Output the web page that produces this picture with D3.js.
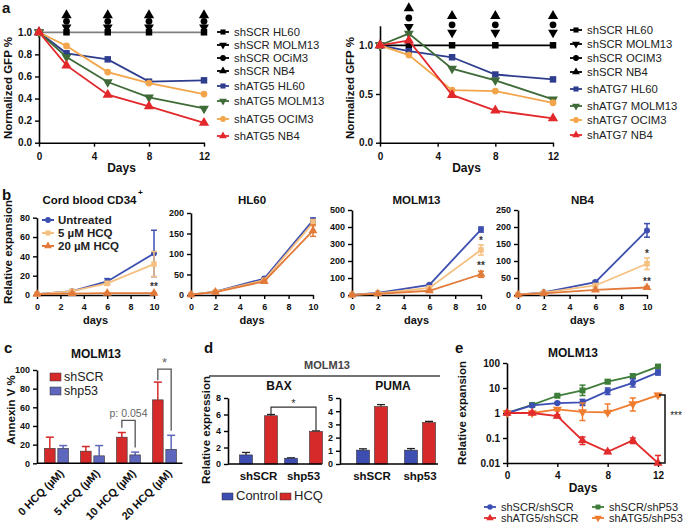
<!DOCTYPE html>
<html><head><meta charset="utf-8">
<script src="https://cdn.jsdelivr.net/npm/d3@7"></script>
<style>body{margin:0;background:#fff} svg{display:block}</style>
</head><body><svg id="c" width="685" height="525"></svg>
<script>
// ---------------- DATA ----------------
// Panel a
const aDays = [0, 2, 5, 8, 12];
const aXTicks = [0, 4, 8, 12];
const aLeftLabels = ["shSCR HL60","shSCR MOLM13","shSCR OCiM3","shSCR NB4","shATG5 HL60","shATG5 MOLM13","shATG5 OCIM3","shATG5 NB4"];
const aRightLabels = ["shSCR HL60","shSCR MOLM13","shSCR OCIM3","shSCR NB4","shATG7 HL60","shATG7 MOLM13","shATG7 OCIM3","shATG7 NB4"];
const aLeftSCR_HL60 = [1, 1, 1, 1, 1];
const aLeftSCR_MOLM13 = [1, 1.045, 1.045, 1.045, 1.045];
const aLeftSCR_OCIM3 = [1, 1.1, 1.1, 1.1, 1.1];
const aLeftSCR_NB4 = [1, 1.155, 1.155, 1.155, 1.155];
const aLeftATG5_HL60 = [1, 0.81, 0.755, 0.553, 0.565];
const aLeftATG5_MOLM13 = [1, 0.776, 0.55, 0.41, 0.31];
const aLeftATG5_OCIM3 = [1, 0.876, 0.64, 0.54, 0.44];
const aLeftATG5_NB4 = [1, 0.70, 0.435, 0.33, 0.18];
const aRightSCR_HL60 = [1, 1, 1, 1, 1];
const aRightSCR_MOLM13 = [1, 1.19, 1.13, 1.13, 1.13];
const aRightSCR_OCIM3 = [1, 1.28, 1.21, 1.21, 1.21];
const aRightSCR_NB4 = [1, 1.38, 1.3, 1.3, 1.3];
const aRightATG7_HL60 = [1, 0.94, 0.877, 0.70, 0.65];
const aRightATG7_MOLM13 = [1, 1.12, 0.76, 0.64, 0.445];
const aRightATG7_OCIM3 = [1, 0.90, 0.54, 0.53, 0.41];
const aRightATG7_NB4 = [1, 1.05, 0.49, 0.33, 0.25];

// Panel b
const bLegend = ["Untreated", "5 \u00b5M HCQ", "20 \u00b5M HCQ"];
const bTitles = ["Cord blood CD34", "HL60", "MOLM13", "NB4"];
const bDaysCord = [0, 3, 6, 10];
const bDays = [0, 2, 6, 10];
const bXTicks = [0, 2, 4, 6, 8, 10];
const bCordUnt = [1, 4, 14, 43],   bCordUntErr = [0, 1, 3, 24];
const bCord5 = [1, 4, 12, 32],     bCord5Err = [0, 1, 2, 13];
const bCord20 = [1, 1.5, 2, 2],    bCord20Err = [0, 0.5, 0.5, 0.5];
const bHLUnt = [1, 8, 40, 182],    bHLUntErr = [0, 1, 2, 6];
const bHL5 = [1, 8, 36, 176],      bHL5Err = [0, 1, 2, 8];
const bHL20 = [1, 7, 33, 157],     bHL20Err = [0, 1, 2, 14];
const bMOUnt = [1, 12, 60, 385],   bMOUntErr = [0, 2, 4, 15];
const bMO5 = [1, 10, 42, 265],     bMO5Err = [0, 2, 4, 30];
const bMO20 = [1, 7, 25, 122],     bMO20Err = [0, 1, 3, 18];
const bNBUnt = [1, 8, 38, 190],    bNBUntErr = [0, 1, 3, 20];
const bNB5 = [1, 7, 28, 92],       bNB5Err = [0, 1, 2, 17];
const bNB20 = [1, 5, 15, 22],      bNB20Err = [0, 1, 1, 3];

// Panel c
const cGroups = ["0 HCQ (\u00b5M)", "5 HCQ (\u00b5M)", "10 HCQ (\u00b5M)", "20 HCQ (\u00b5M)"];
const cSeries = ["shSCR", "shp53"];
const cSCR = [16, 13, 28, 68],  cSCRErr = [12, 5, 5, 19];
const cP53 = [16, 8, 9, 15],    cP53Err = [3, 11, 3, 15];
const cYTicks = [0, 20, 40, 60, 80, 100];

// Panel d
const dGroups = ["shSCR", "shp53"];
const dSeries = ["Control", "HCQ"];
const dBAXControl = [1.1, 0.7],   dBAXControlErr = [0.3, 0.05];
const dBAXHCQ = [5.85, 3.95],     dBAXHCQErr = [0.15, 0.06];
const dPUMAControl = [1.05, 1.05], dPUMAControlErr = [0.1, 0.12];
const dPUMAHCQ = [4.35, 3.15],     dPUMAHCQErr = [0.15, 0.08];

// Panel e
const eDays = [0, 2, 4, 6, 8, 10, 12];
const eLegend = ["shSCR/shSCR", "shSCR/shP53", "shATG5/shSCR", "shATG5/shP53"];
const eSCRSCR = [1, 2, 2.5, 2.65, 7.5, 16, 42],     eSCRSCRHi = [1, 2.2, 2.7, 3.5, 10, 23, 52],   eSCRSCRLo = [1, 1.8, 2.3, 2.0, 5.5, 11, 33];
const eSCRP53 = [1, 2.1, 4.9, 8, 18, 30, 72],       eSCRP53Hi = [1, 2.3, 5.3, 13, 21, 35, 82],    eSCRP53Lo = [1, 1.9, 4.5, 5, 15, 25, 62];
const eATG5SCR = [1, 1, 0.75, 0.08, 0.028, 0.08, 0.01], eATG5SCRHi = [1, 1.1, 0.85, 0.11, 0.032, 0.1, 0.02], eATG5SCRLo = [1, 0.9, 0.65, 0.055, 0.024, 0.06, 0.01];
const eATG5P53 = [1, 1, 1.4, 1.1, 1.05, 2.3, 5.2],  eATG5P53Hi = [1, 1.1, 1.6, 2.5, 2.3, 4.0, 6.0], eATG5P53Lo = [1, 0.9, 1.2, 0.5, 1.0, 1.2, 4.5];
const eYTicks = [0.01, 0.1, 1, 10, 100];

// ---------------- DRAWING ----------------
const F = '"Liberation Sans", Arial, Helvetica, sans-serif';
const svg = d3.select("#c").attr("font-family", F);

function styleAxis(sel, fs) {
  sel.select(".domain").attr("stroke", "#000").attr("stroke-width", 1.6);
  sel.selectAll(".tick line").attr("stroke", "#000").attr("stroke-width", 1.4);
  sel.selectAll(".tick text").attr("font-size", fs).attr("font-weight", "bold").attr("fill", "#111").attr("font-family", F);
}
function symPath(kind, size) {
  if (kind === "circle") return d3.symbol(d3.symbolCircle, size)();
  if (kind === "square") return d3.symbol(d3.symbolSquare, size)();
  return d3.symbol(d3.symbolTriangle, size)();
}
function marker(g, kind, size, cx, cy, color) {
  g.append("path").attr("d", symPath(kind, size))
    .attr("transform", `translate(${cx},${cy})` + (kind === "itri" ? " rotate(180)" : ""))
    .attr("fill", color);
}
function text(g, x, y, s, o) {
  o = o || {};
  const t = g.append("text").attr("x", x).attr("y", y).text(s)
    .attr("font-size", o.fs || 12).attr("font-weight", o.fw || "normal")
    .attr("fill", o.fill || "#111").attr("text-anchor", o.anchor || "start")
    .attr("dominant-baseline", o.db || "middle");
  if (o.rot) t.attr("transform", `rotate(${o.rot},${x},${y})`);
  return t;
}
function series(g, x, y, days, vals, color, kind, size, opt) {
  opt = opt || {};
  if (opt.errLo) {
    days.forEach((d, i) => {
      const lo = opt.errLo[i], hi = opt.errHi[i];
      if (hi === lo) return;
      g.append("line").attr("x1", x(d)).attr("x2", x(d)).attr("y1", y(lo)).attr("y2", y(hi)).attr("stroke", color).attr("stroke-width", 1.5);
      [lo, hi].forEach(v => g.append("line").attr("x1", x(d) - 3).attr("x2", x(d) + 3).attr("y1", y(v)).attr("y2", y(v)).attr("stroke", color).attr("stroke-width", 1.5));
    });
  }
  if (!opt.noLine) {
    g.append("path").datum(days.map((d, i) => [d, vals[i]]))
      .attr("d", d3.line().x(d => x(d[0])).y(d => y(d[1])))
      .attr("fill", "none").attr("stroke", opt.lineColor || color).attr("stroke-width", opt.lw || 1.8);
  }
  days.forEach((d, i) => marker(g, kind, size, x(d), y(vals[i]), color));
}

// ===== Panel a =====
const blueA = "#2f3d8e", greenA = "#3e6b37", orangeA = "#f2a54a", redA = "#e2282b";
text(svg, 2, 9, "a", {fs: 15, fw: "bold"});
function panelA(xr, yr, ydom, yticks, scr, atg, lineColor, legX, legYs, labels) {
  const g = svg.append("g");
  const x = d3.scaleLinear().domain([0, 12]).range(xr);
  const y = d3.scaleLinear().domain(ydom).range(yr);
  g.append("g").attr("transform", `translate(0,${yr[0]})`)
    .call(d3.axisBottom(x).tickValues(aXTicks).tickSize(4).tickSizeOuter(0).tickPadding(6)).call(s => styleAxis(s, 10));
  g.append("g").attr("transform", `translate(${xr[0]},0)`)
    .call(d3.axisLeft(y).tickValues(yticks).tickFormat(d3.format(".1f")).tickSize(4).tickSizeOuter(0)).call(s => styleAxis(s, 10));
  const kinds = ["square", "itri", "circle", "tri"];
  const sizes = [42, 42, 36, 46];
  series(g, x, y, aDays, scr[0], "#000", "square", 42, {lineColor: lineColor, lw: 1.8});
  for (let k = 1; k < 4; k++) series(g, x, y, aDays, scr[k], "#000", kinds[k], sizes[k], {noLine: true});
  const cols = [blueA, greenA, orangeA, redA];
  atg.forEach((v, k) => series(g, x, y, aDays, v, cols[k], kinds[k], sizes[k]));
  labels.forEach((lab, i) => {
    const c = i < 4 ? "#000" : cols[i - 4];
    const yy = legYs[i];
    g.append("line").attr("x1", legX - 6).attr("x2", legX + 6).attr("y1", yy).attr("y2", yy).attr("stroke", c).attr("stroke-width", 1.8);
    marker(g, kinds[i % 4], 26, legX, yy, c);
    text(g, legX + 11, yy + 1, lab, {fs: 11.3, fill: "#222"});
  });
  text(g, (xr[0] + xr[1]) / 2, 169, "Days", {fs: 12, fw: "bold", anchor: "middle"});
}
panelA([39, 204], [142.7, 32.3], [0, 1], [0, 0.2, 0.4, 0.6, 0.8, 1.0],
  [aLeftSCR_HL60, aLeftSCR_MOLM13, aLeftSCR_OCIM3, aLeftSCR_NB4],
  [aLeftATG5_HL60, aLeftATG5_MOLM13, aLeftATG5_OCIM3, aLeftATG5_NB4], "#808080",
  223, [32, 45, 58, 71, 86, 101, 119, 136], aLeftLabels);
text(svg, 9, 88, "Normalized GFP %", {fs: 11.5, fw: "bold", anchor: "middle", rot: -90});
panelA([380, 553], [142.7, 25.8], [0, 1.2], [0, 0.5, 1.0],
  [aRightSCR_HL60, aRightSCR_MOLM13, aRightSCR_OCIM3, aRightSCR_NB4],
  [aRightATG7_HL60, aRightATG7_MOLM13, aRightATG7_OCIM3, aRightATG7_NB4], "#000",
  576, [30, 44, 58, 72, 89, 106, 120, 135], aRightLabels);
text(svg, 351, 88, "Normalized GFP %", {fs: 11.5, fw: "bold", anchor: "middle", rot: -90});

// ===== Panel b =====
const bBlue = "#3d4fb0", bLight = "#f6c080", bOrange = "#e27a3a";
text(svg, 2, 196, "b", {fs: 15, fw: "bold"});
function panelB(xr, ymax, ytop, days, sets, title, stars, titleDx) {
  const g = svg.append("g");
  const x = d3.scaleLinear().domain([0, 10]).range(xr);
  const y = d3.scaleLinear().domain([0, ymax]).range([295, ytop]);
  g.append("g").attr("transform", "translate(0,295)")
    .call(d3.axisBottom(x).tickValues(bXTicks).tickSize(4).tickSizeOuter(0).tickPadding(5)).call(s => styleAxis(s, 9));
  g.append("g").attr("transform", `translate(${xr[0]},0)`)
    .call(d3.axisLeft(y).ticks(ymax === 80 ? 4 : 5).tickSize(4).tickSizeOuter(0)).call(s => styleAxis(s, 9));
  const cols = [bBlue, bLight, bOrange], kinds = ["circle", "square", "tri"], sz = [28, 30, 34];
  sets.forEach((s, k) => series(g, x, y, days, s[0], cols[k], kinds[k], sz[k],
    {errLo: s[0].map((v, i) => v - s[1][i]), errHi: s[0].map((v, i) => v + s[1][i]), lw: 1.8}));
  const t = text(g, (xr[0] + xr[1]) / 2 + (titleDx || 0), 201, title, {fs: 11.5, fw: "bold", anchor: "middle"});
  text(g, (xr[0] + xr[1]) / 2, 321, "days", {fs: 11, fw: "bold", anchor: "middle"});
  stars.forEach(st => text(g, x(10), y(st[1]), st[0], {fs: 10, fw: "bold", anchor: "middle", fill: "#333"}));
  return {g, t};
}
const gb1 = panelB([37, 154], 80, 217.7, bDaysCord,
  [[bCordUnt, bCordUntErr], [bCord5, bCord5Err], [bCord20, bCord20Err]], bTitles[0], [["**", 8]], -6);
{
  const bb = gb1.t.node().getBBox();
  gb1.g.append("text").attr("x", bb.x + bb.width + 1).attr("y", 195).text("+").attr("font-size", 8).attr("font-weight", "bold");
}
panelB([191, 313], 200, 213, bDays, [[bHLUnt, bHLUntErr], [bHL5, bHL5Err], [bHL20, bHL20Err]], bTitles[1], []);
panelB([352, 481], 500, 210, bDays, [[bMOUnt, bMOUntErr], [bMO5, bMO5Err], [bMO20, bMO20Err]], bTitles[2], [["*", 318], ["**", 171]]);
panelB([518, 647], 250, 210, bDays, [[bNBUnt, bNBUntErr], [bNB5, bNB5Err], [bNB20, bNB20Err]], bTitles[3], [["*", 121], ["**", 37]]);
text(svg, 9, 252, "Relative expansion", {fs: 11.5, fw: "bold", anchor: "middle", rot: -90});
[bBlue, bLight, bOrange].forEach((c, i) => {
  const yy = 220 + i * 13;
  svg.append("line").attr("x1", 42).attr("x2", 54).attr("y1", yy).attr("y2", yy).attr("stroke", c).attr("stroke-width", 2);
  marker(svg, ["circle", "square", "tri"][i], 26, 48, yy, c);
  text(svg, 58, yy + 1, bLegend[i], {fs: 11.5, fw: "bold", fill: "#222"});
});

// ===== Panel c =====
const cRed = "#d62a2a", cBlue = "#5f66bd";
text(svg, 4, 349, "c", {fs: 15, fw: "bold"});
{
  const g = svg.append("g");
  const y = d3.scaleLinear().domain([0, 100]).range([463.3, 370]);
  const x0 = d3.scaleBand().domain(cGroups).range([38.5, 182.5]);
  const x1 = d3.scaleBand().domain(cSeries).range([6, 30]).paddingInner(0.2);
  const vals = [cSCR, cP53], errs = [cSCRErr, cP53Err], cols = [cRed, cBlue];
  cGroups.forEach((grp, i) => {
    cSeries.forEach((s, k) => {
      const bx = x0(grp) + x1(s), bw = x1.bandwidth(), v = vals[k][i], e = errs[k][i];
      const cx = bx + bw / 2;
      g.append("line").attr("x1", cx).attr("x2", cx).attr("y1", y(v)).attr("y2", y(v + e)).attr("stroke", cols[k]).attr("stroke-width", 1.5);
      g.append("line").attr("x1", cx - 4).attr("x2", cx + 4).attr("y1", y(v + e)).attr("y2", y(v + e)).attr("stroke", cols[k]).attr("stroke-width", 1.5);
      g.append("rect").attr("x", bx).attr("y", y(v)).attr("width", bw).attr("height", y(0) - y(v)).attr("fill", cols[k]).attr("stroke", "#333").attr("stroke-width", 0.6);
    });
  });
  g.append("line").attr("x1", 37).attr("x2", 182.5).attr("y1", 463.3).attr("y2", 463.3).attr("stroke", "#000").attr("stroke-width", 1.6);
  g.append("g").attr("transform", "translate(37,0)")
    .call(d3.axisLeft(y).tickValues(cYTicks).tickSize(4).tickSizeOuter(0)).call(s => styleAxis(s, 9));
  cGroups.forEach(grp => {
    const cx = x0(grp) + x0.bandwidth() / 2 + 6;
    text(g, cx, 472, grp, {fs: 11, fw: "bold", anchor: "end", rot: -45});
  });
  const br = (i, level, l1, l2, lab) => {
    const xa = x0(cGroups[i]) + x1("shSCR") + x1.bandwidth() / 2;
    const xb = x0(cGroups[i]) + x1("shp53") + x1.bandwidth() / 2;
    g.append("path").attr("d", `M${xa},${y(l1)}V${y(level)}H${xb}V${y(l2)}`).attr("fill", "none").attr("stroke", "#555").attr("stroke-width", 1.3);
    text(g, (xa + xb) / 2, y(level) - 6, lab, {fs: lab === "*" ? 13 : 10.5, anchor: "middle", fill: "#666"});
  };
  br(2, 46, 38, 17, "p: 0.054");
  br(3, 101, 89, 35, "*");
  text(g, 96, 355, "MOLM13", {fs: 12, fw: "bold", anchor: "middle"});
  text(g, 12, 410, "Annexin  V %", {fs: 11.5, fw: "bold", anchor: "middle", rot: -90});
  [cRed, cBlue].forEach((c, i) => {
    const yy = 377 + i * 14;
    g.append("rect").attr("x", 50).attr("y", yy - 4).attr("width", 11).attr("height", 8).attr("fill", c).attr("stroke", "#333").attr("stroke-width", 0.5);
    text(g, 64, yy + 1, cSeries[i], {fs: 12.5, fill: "#222"});
  });
}

// ===== Panel d =====
const dBlue = "#3d4db2", dRed = "#d62a2a";
text(svg, 204, 349, "d", {fs: 15, fw: "bold"});
text(svg, 327, 366, "MOLM13", {fs: 11, fw: "bold", anchor: "middle", fill: "#444"});
svg.append("line").attr("x1", 209).attr("x2", 440).attr("y1", 376).attr("y2", 376).attr("stroke", "#444").attr("stroke-width", 1.5);
function panelD(axisX, axisEnd, ymax, rng, off, ctrl, ctrlErr, hcq, hcqErr, title) {
  const g = svg.append("g");
  const y = d3.scaleLinear().domain([0, ymax]).range([464, 398]);
  const x0 = d3.scaleBand().domain(dGroups).range(rng);
  const bw = 13;
  const vals = [ctrl, hcq], errs = [ctrlErr, hcqErr], cols = [dBlue, dRed];
  const centers = [];
  dGroups.forEach((grp, i) => {
    const gc = x0(grp) + x0.bandwidth() / 2;
    centers.push([]);
    [0, 1].forEach(k => {
      const cx = gc + (k === 0 ? -off : off);
      centers[i].push(cx);
      const v = vals[k][i], e = errs[k][i];
      g.append("line").attr("x1", cx).attr("x2", cx).attr("y1", y(v)).attr("y2", y(v + e)).attr("stroke", "#222").attr("stroke-width", 1.3);
      g.append("line").attr("x1", cx - 4).attr("x2", cx + 4).attr("y1", y(v + e)).attr("y2", y(v + e)).attr("stroke", "#222").attr("stroke-width", 1.3);
      g.append("rect").attr("x", cx - bw / 2).attr("y", y(v)).attr("width", bw).attr("height", y(0) - y(v)).attr("fill", cols[k]).attr("stroke", "#333").attr("stroke-width", 0.6);
    });
    text(g, gc, 477, grp, {fs: 11.5, fw: "bold", anchor: "middle"});
  });
  g.append("line").attr("x1", axisX).attr("x2", axisEnd).attr("y1", 464).attr("y2", 464).attr("stroke", "#000").attr("stroke-width", 1.6);
  g.append("g").attr("transform", `translate(${axisX},0)`)
    .call(d3.axisLeft(y).ticks(ymax === 8 ? 4 : 5).tickSize(4).tickSizeOuter(0)).call(s => styleAxis(s, 9));
  text(g, (axisX + axisEnd) / 2 + 4, 387, title, {fs: 12, fw: "bold", anchor: "middle"});
  return {g, y, centers};
}
const bax = panelD(228, 322, 8, [236, 326], 12.5, dBAXControl, dBAXControlErr, dBAXHCQ, dBAXHCQErr, "BAX");
{
  const xa = bax.centers[0][1], xb = bax.centers[1][1];
  bax.g.append("path").attr("d", `M${xa},${bax.y(6.05)}V${bax.y(6.9)}H${xb}V${bax.y(4.05)}`).attr("fill", "none").attr("stroke", "#333").attr("stroke-width", 1.2);
  text(bax.g, (xa + xb) / 2, bax.y(6.9) - 3, "*", {fs: 11, anchor: "middle", fill: "#333"});
}
panelD(340, 438, 5, [348, 444], 9, dPUMAControl, dPUMAControlErr, dPUMAHCQ, dPUMAHCQErr, "PUMA");
text(svg, 207, 430, "Relative expression", {fs: 11.5, fw: "bold", anchor: "middle", rot: -90});
[dBlue, dRed].forEach((c, i) => {
  const xx = [222, 280][i];
  svg.append("rect").attr("x", xx).attr("y", 493).attr("width", 11).attr("height", 7).attr("fill", c).attr("stroke", "#333").attr("stroke-width", 0.5);
  text(svg, xx + 14, 497, dSeries[i], {fs: 13, fill: "#222"});
});

// ===== Panel e =====
const eBlue = "#3c4fb4", eGreen = "#3f7d3a", eRed = "#e22c2c", eOrange = "#f07c30";
text(svg, 455, 349, "e", {fs: 15, fw: "bold"});
{
  const g = svg.append("g");
  const x = d3.scaleLinear().domain([0, 12]).range([507, 658]);
  const y = d3.scaleLog().domain([0.01, 100]).range([463, 363]);
  g.append("g").attr("transform", "translate(0,463)")
    .call(d3.axisBottom(x).tickValues(aXTicks).tickSize(4).tickSizeOuter(0).tickPadding(5)).call(s => styleAxis(s, 10));
  g.append("g").attr("transform", "translate(507,0)")
    .call(d3.axisLeft(y).tickValues(eYTicks).tickFormat(d => String(d)).tickSize(4).tickSizeOuter(0)).call(s => styleAxis(s, 10));
  series(g, x, y, eDays, eSCRP53, eGreen, "square", 36, {errLo: eSCRP53Lo, errHi: eSCRP53Hi});
  series(g, x, y, eDays, eSCRSCR, eBlue, "circle", 30, {errLo: eSCRSCRLo, errHi: eSCRSCRHi});
  series(g, x, y, eDays, eATG5P53, eOrange, "itri", 36, {errLo: eATG5P53Lo, errHi: eATG5P53Hi});
  series(g, x, y, eDays, eATG5SCR, eRed, "tri", 36, {errLo: eATG5SCRLo, errHi: eATG5SCRHi});
  g.append("path").attr("d", `M659,${y(5.2)}H665V${y(0.01)}H659`).attr("fill", "none").attr("stroke", "#111").attr("stroke-width", 1.5);
  text(g, 676, 416, "***", {fs: 10, anchor: "middle", fill: "#222"});
  text(g, 573, 354, "MOLM13", {fs: 12, fw: "bold", anchor: "middle"});
  text(g, 583, 489, "Days", {fs: 12, fw: "bold", anchor: "middle"});
  text(g, 463, 413, "Relative expansion", {fs: 11.5, fw: "bold", anchor: "middle", rot: -90});
  const legs = [[490, 507, eBlue, "circle"], [598, 507, eGreen, "square"], [490, 518, eRed, "tri"], [598, 518, eOrange, "itri"]];
  legs.forEach((l, i) => {
    g.append("line").attr("x1", l[0] - 6).attr("x2", l[0] + 6).attr("y1", l[1]).attr("y2", l[1]).attr("stroke", l[2]).attr("stroke-width", 1.8);
    marker(g, l[3], 24, l[0], l[1], l[2]);
    text(g, l[0] + 11, l[1] + 1, eLegend[i], {fs: 11, fill: "#222"});
  });
}
</script></body></html>
